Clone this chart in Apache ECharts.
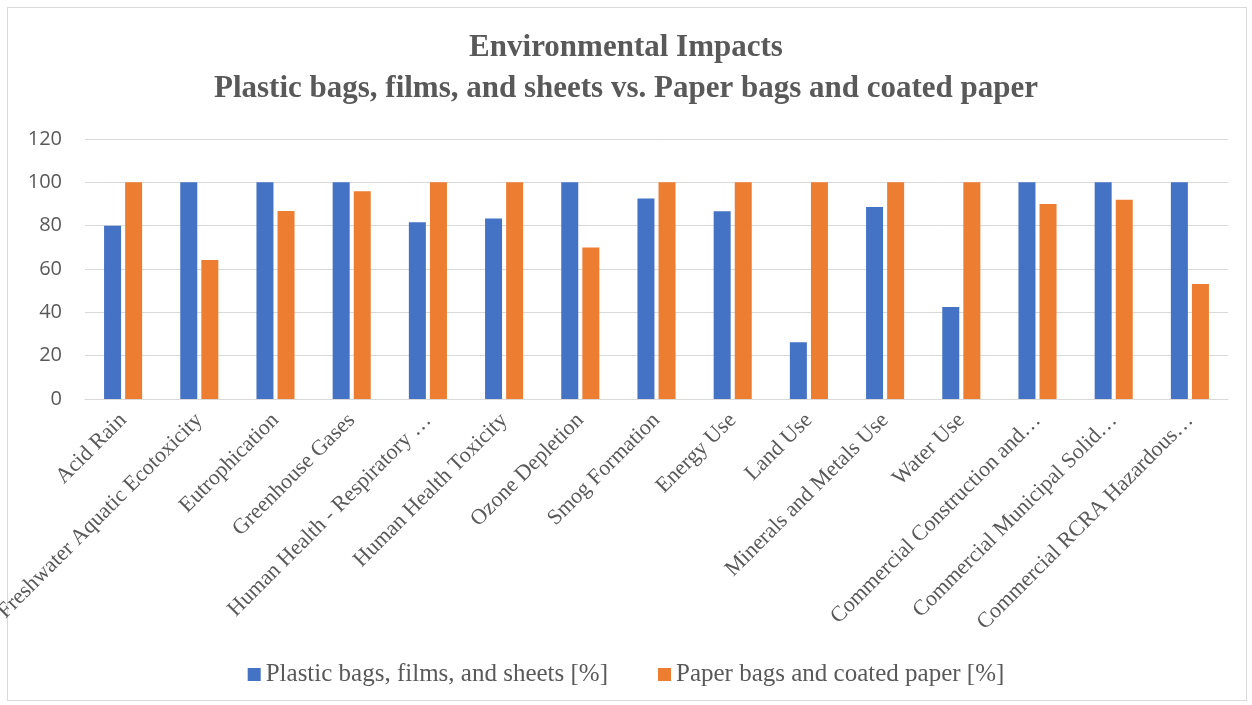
<!DOCTYPE html>
<html>
<head>
<meta charset="utf-8">
<script src="https://cdn.jsdelivr.net/npm/echarts@6/dist/echarts.min.js"></script>
<style>
  html, body { margin: 0; padding: 0; background: #fff; }
  #frame { position: absolute; left: 7px; top: 7px; width: 1240px; height: 694px; border: 1px solid #d9d9d9; box-sizing: border-box; }
  #chart { position: absolute; left: 0; top: 0; width: 1252px; height: 705px; }
</style>
</head>
<body>
<div id="frame"></div>
<div id="chart"></div>
<script>
const categories = [
  'Acid Rain', 'Freshwater Aquatic Ecotoxicity', 'Eutrophication', 'Greenhouse Gases',
  'Human Health - Respiratory …', 'Human Health Toxicity', 'Ozone Depletion', 'Smog Formation',
  'Energy Use', 'Land Use', 'Minerals and Metals Use', 'Water Use',
  'Commercial Construction and…', 'Commercial Municipal Solid…', 'Commercial RCRA Hazardous…'
];
const plasticValues = [80, 100, 100, 100, 81.6, 83.3, 100, 92.5, 86.7, 26.2, 88.6, 42.5, 100, 100, 100];
const paperValues = [100, 64.2, 86.8, 95.9, 100, 100, 69.9, 100, 100, 100, 100, 100, 90.0, 92.0, 53.1];
const seriesNames = ['Plastic bags, films, and sheets [%]', 'Paper bags and coated paper [%]'];
const titleLines = ['Environmental Impacts', 'Plastic bags, films, and sheets vs. Paper bags and coated paper'];

const serif = 'Liberation Serif, DejaVu Serif, serif';
const textGray = '#595959';
const gridGray = '#d9d9d9';

const chart = echarts.init(document.getElementById('chart'));
chart.setOption({
  backgroundColor: 'transparent',
  animation: false,
  title: {
    text: titleLines.join('\n'),
    left: 'center', top: 22,
    textStyle: { fontFamily: serif, fontSize: 31, fontWeight: 'bold', color: textGray, lineHeight: 41 }
  },
  legend: {
    bottom: 13, left: 'center',
    itemWidth: 13, itemHeight: 13, itemGap: 50,
    icon: 'rect',
    textStyle: { fontFamily: serif, fontSize: 25, color: textGray }
  },
  grid: { left: 85, right: 24, top: 139, bottom: 306, outerBoundsMode: 'none' },
  xAxis: {
    type: 'category',
    data: categories,
    axisLine: { show: true, lineStyle: { color: gridGray, width: 1 } },
    axisTick: { show: false },
    axisLabel: {
      interval: 0, rotate: 45, margin: 18,
      fontFamily: serif, fontSize: 22, color: textGray
    }
  },
  yAxis: {
    type: 'value',
    min: 0, max: 120, interval: 20,
    axisLine: { show: false },
    axisTick: { show: false },
    axisLabel: { fontFamily: 'Open Sans, Noto Sans, sans-serif', fontSize: 20, color: textGray, margin: 23 },
    splitLine: { lineStyle: { color: gridGray, width: 1 } }
  },
  series: [
    {
      name: seriesNames[0], type: 'bar', data: plasticValues,
      barWidth: 17, barGap: '24%',
      itemStyle: { color: '#4472C4' }
    },
    {
      name: seriesNames[1], type: 'bar', data: paperValues,
      barWidth: 17,
      itemStyle: { color: '#ED7D31' }
    }
  ]
});
</script>
</body>
</html>
